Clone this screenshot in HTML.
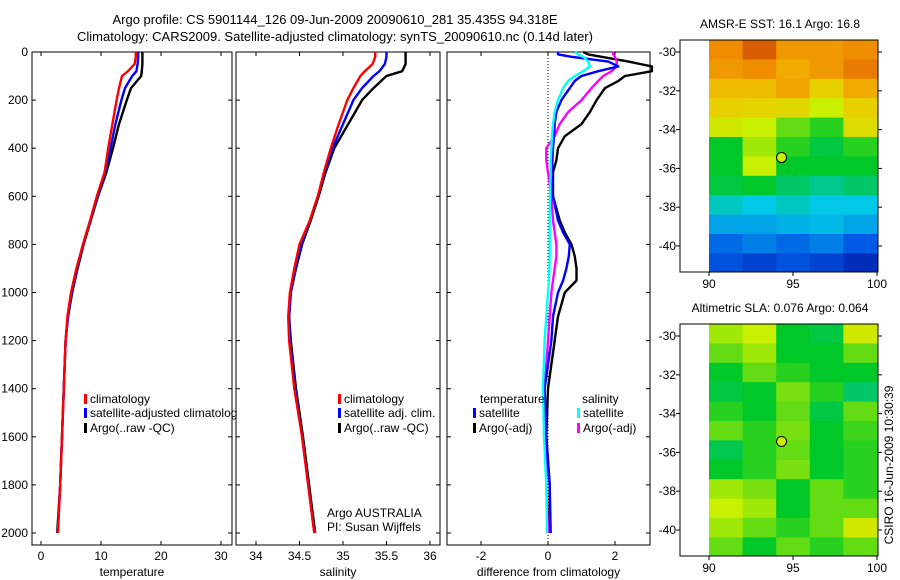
<!DOCTYPE html>
<html><head><meta charset="utf-8">
<style>
html,body{margin:0;padding:0;background:#fff;}
svg{display:block;font-family:"Liberation Sans",Arial,sans-serif;}
text{fill:#000;}
</style></head>
<body>
<svg id="fig" width="900" height="580" viewBox="0 0 900 580" xmlns="http://www.w3.org/2000/svg">
<text x="335" y="24" font-size="13" text-anchor="middle">Argo profile: CS 5901144_126 09-Jun-2009 20090610_281 35.435S 94.318E</text>
<text x="335" y="41" font-size="13" text-anchor="middle">Climatology: CARS2009. Satellite-adjusted climatology: synTS_20090610.nc (0.14d later)</text>
<g id="panels"></g>
</svg>
<script>
// ---- data ----
const depths = [0,20,50,80,100,150,200,300,400,500,600,700,800,900,1000,1100,1200,1400,1600,1800,2000];
const tempClim = [15.8,15.8,15.6,14.5,13.5,13.0,12.6,11.9,11.2,10.6,9.3,8.2,7.0,5.9,5.0,4.4,4.1,3.8,3.5,3.2,2.8];
const tempSat = [16.2,16.2,16.1,15.9,15.2,14.0,13.4,12.4,11.6,10.7,9.4,8.2,7.0,6.0,5.1,4.5,4.1,3.8,3.5,3.2,2.8];
const tempArgo = [16.9,16.9,16.9,16.8,16.7,15.0,14.3,13.0,12.0,10.9,9.5,8.3,7.1,6.1,5.2,4.5,4.1,3.8,3.5,3.2,2.7];
const salClim = [35.37,35.37,35.34,35.25,35.2,35.12,35.05,34.95,34.86,34.78,34.71,34.62,34.5,34.44,34.39,34.37,34.38,34.44,34.53,34.6,34.67];
const salSat = [35.5,35.5,35.48,35.42,35.35,35.22,35.12,35.0,34.88,34.79,34.71,34.62,34.52,34.45,34.4,34.38,34.39,34.45,34.53,34.6,34.67];
const salArgo = [35.72,35.72,35.72,35.68,35.5,35.35,35.22,35.06,34.9,34.8,34.72,34.63,34.53,34.46,34.4,34.38,34.4,34.46,34.54,34.61,34.68];
const diffDepths = [0,10,20,40,60,80,100,120,150,200,250,300,350,400,450,500,600,700,750,800,850,900,950,1000,1100,1200,1400,1600,1800,2000];
const dTempSat = [0.3,0.3,0.7,1.8,2.1,1.5,1.0,0.8,0.65,0.4,0.25,0.2,0.18,0.15,0.13,0.12,0.15,0.3,0.45,0.65,0.62,0.55,0.45,0.3,0.15,0.1,-0.1,-0.05,0.05,0.08];
const dTempArgo = [1.05,1.2,1.6,2.4,3.1,3.1,2.3,2.1,1.7,1.45,1.25,1.0,0.5,0.3,0.25,0.15,0.15,0.35,0.5,0.7,0.8,0.85,0.85,0.5,0.3,0.2,0.0,-0.05,0.05,0.05];
const dSalSat = [0.8,0.9,1.05,1.2,1.25,1.05,0.8,0.6,0.45,0.3,0.2,0.15,0.12,0.1,0.08,0.08,0.06,0.05,0.05,0.05,0.05,0.04,0.03,0.0,-0.05,-0.1,-0.15,-0.12,-0.05,-0.03];
const dSalArgo = [1.95,1.95,2.0,2.05,2.05,1.9,1.65,1.5,1.3,1.0,0.6,0.35,0.2,-0.05,-0.05,0.0,0.1,0.15,0.2,0.25,0.25,0.2,0.15,0.1,0.05,0.0,-0.1,-0.05,-0.05,0.0];
const depthTicks = [0,200,400,600,800,1000,1200,1400,1600,1800,2000];
const tempTicks = [0,10,20,30];
const salTicks = [34,34.5,35,35.5,36];
const diffTicks = [-2,0,2];
const sstGrid = [
 [0.8,0.86,0.78,0.78,0.8],[0.78,0.8,0.75,0.78,0.82],[0.72,0.72,0.76,0.68,0.75],
 [0.68,0.67,0.66,0.6,0.68],[0.62,0.6,0.55,0.52,0.65],[0.5,0.58,0.52,0.48,0.52],
 [0.5,0.6,0.5,0.5,0.5],[0.48,0.5,0.45,0.42,0.45],[0.38,0.35,0.38,0.35,0.35],
 [0.3,0.3,0.32,0.33,0.3],[0.22,0.25,0.22,0.25,0.2],[0.18,0.15,0.18,0.15,0.1]];
const slaGrid = [
 [0.58,0.6,0.5,0.48,0.62],[0.55,0.58,0.5,0.5,0.55],[0.5,0.55,0.52,0.5,0.5],
 [0.48,0.5,0.56,0.52,0.45],[0.52,0.5,0.55,0.48,0.55],[0.55,0.52,0.56,0.5,0.53],
 [0.47,0.52,0.55,0.5,0.52],[0.5,0.52,0.56,0.5,0.52],[0.58,0.56,0.5,0.55,0.52],
 [0.6,0.58,0.5,0.55,0.55],[0.58,0.55,0.52,0.55,0.62],[0.55,0.5,0.55,0.52,0.55]];
const lonTicks = [90,95,100];
const latTicks = [-30,-32,-34,-36,-38,-40];
const argoLon = 94.318, argoLat = -35.435;

// ---- helpers ----
const NS = "http://www.w3.org/2000/svg";
const root = document.getElementById('panels');
function mk(tag, attrs, parent){const e=document.createElementNS(NS,tag);for(const k in attrs)e.setAttribute(k,attrs[k]);(parent||root).appendChild(e);return e;}
function txt(x,y,s,anchor,size){const t=mk('text',{x:x,y:y,'font-size':size||12,'text-anchor':anchor||'start'});t.textContent=s;return t;}
const yTop=52, yScale=0.2405, yBot=545;
const yD = d => yTop + d*yScale;

function panel(name,x0,x1,xv0,px,ticks,label,showDepth){
  const xf = v => xv0 + v*px;
  const box = mk('rect',{x:x0,y:yTop,width:x1-x0,height:yBot-yTop,fill:'none',stroke:'#000','stroke-width':1});
  
  
  depthTicks.forEach(d=>{
    mk('line',{x1:x0,y1:yD(d),x2:x0+4,y2:yD(d),stroke:'#000'});
    mk('line',{x1:x1,y1:yD(d),x2:x1-4,y2:yD(d),stroke:'#000'});
    if(showDepth){const t=txt(x0-4,yD(d)+4,String(d),'end');
      
      }
  });
  ticks.forEach(v=>{
    const x=xf(v);
    mk('line',{x1:x,y1:yBot,x2:x,y2:yBot-4,stroke:'#000'});
    mk('line',{x1:x,y1:yTop,x2:x,y2:yTop+4,stroke:'#000'});
    const t=txt(x,560,String(v),'middle');
    
    
  });
  const t=txt((x0+x1)/2,576,label,'middle');
  
  
  return xf;
}
function line(xf,dep,vals,color,name){
  const pts = vals.map((v,i)=>xf(v).toFixed(1)+','+yD(dep[i]).toFixed(1)).join(' ');
  const p = mk('polyline',{points:pts,fill:'none',stroke:color,'stroke-width':2.4,'stroke-linejoin':'round'});
  
  
}
function legItem(x,y,color,label,name){
  mk('rect',{x:x,y:y-9,width:3,height:10,fill:color});
  const t=txt(x+6,y,label,'start',12);
  
  
}

// temperature panel
const xT = panel('temperature',32,232,41,6,tempTicks,'temperature',true);
line(xT,depths,tempArgo,'#000','temp-argo-line');
line(xT,depths,tempSat,'#0000ff','temp-satellite-line');
line(xT,depths,tempClim,'#ff0000','temp-climatology-line');
legItem(84,403,'#ff0000','climatology','legend-climatology');
legItem(84,417,'#0000ff','satellite-adjusted climatolog','legend-satellite');
legItem(84,432,'#000','Argo(..raw -QC)','legend-argo');

// salinity panel
const xS = panel('salinity',236,440,256-34*87,87,salTicks,'salinity',false);
line(xS,depths,salArgo,'#000','sal-argo-line');
line(xS,depths,salSat,'#0000ff','sal-satellite-line');
line(xS,depths,salClim,'#ff0000','sal-climatology-line');
legItem(338,403,'#ff0000','climatology','legend2-climatology');
legItem(338,417,'#0000ff','satellite adj. clim.','legend2-satellite');
legItem(338,432,'#000','Argo(..raw -QC)','legend2-argo');
let t1=txt(327,517,'Argo AUSTRALIA');
let t2=txt(327,531,'PI: Susan Wijffels');

// difference panel
const xD = panel('difference',447,650,548,33.5,diffTicks,'difference from climatology',false);
const zl=mk('line',{x1:xD(0),y1:yTop,x2:xD(0),y2:yBot,stroke:'#000','stroke-dasharray':'1,2'});

line(xD,diffDepths,dTempArgo,'#000','diff-temp-argo-line');
line(xD,diffDepths,dSalArgo,'#ff00ff','diff-sal-argo-line');
line(xD,diffDepths,dTempSat,'#0000ff','diff-temp-satellite-line');
line(xD,diffDepths,dSalSat,'#00ffff','diff-sal-satellite-line');
let t3=txt(480,403,'temperature');
let t4=txt(582,403,'salinity');
legItem(473,417,'#0000ff','satellite','legend3-temp-satellite');
legItem(473,432,'#000','Argo(-adj)','legend3-temp-argo');
legItem(577,417,'#00ffff','satellite','legend3-sal-satellite');
legItem(577,432,'#ff00ff','Argo(-adj)','legend3-sal-argo');

// maps
const cmapStops=[[0,[0,0,140]],[0.2,[0,90,230]],[0.35,[0,200,230]],[0.5,[0,200,40]],[0.6,[200,240,0]],[0.7,[240,200,0]],[0.8,[240,140,0]],[0.9,[200,60,0]],[1,[150,0,0]]];
function cmap(v){
  v=Math.max(0,Math.min(1,v));
  for(let i=1;i<cmapStops.length;i++){
    const [a,ca]=cmapStops[i-1],[b,cb]=cmapStops[i];
    if(v<=b){const f=(v-a)/(b-a);return 'rgb('+ca.map((c,k)=>Math.round(c+(cb[k]-c)*f)).join(',')+')';}
  }
  return 'rgb(150,0,0)';
}
function map(name,top,grid,title){
  const x0=680,x1=878,h=232,lonX=l=>709+(l-90)*16.8, latY=la=>top+12+(-30-la)*19.4;
  const g=mk('g',{});
  
  
  grid.forEach((row,r)=>row.forEach((v,c)=>{
    const lat0=-29.38-r, lon0=90+2*c;
    const yA=latY(lat0), yB=Math.min(top+h,latY(lat0-1));
    const cell=mk('rect',{x:lonX(lon0),y:yA,width:lonX(lon0+2)-lonX(lon0)+0.5,height:yB-yA+0.5,fill:cmap(v)},g);
    
    
  }));
  mk('rect',{x:x0,y:top,width:x1-x0,height:h,fill:'none',stroke:'#000'});
  latTicks.forEach(la=>{const y=latY(la);
    mk('line',{x1:x0,y1:y,x2:x0-4,y2:y,stroke:'#000'});mk('line',{x1:x1,y1:y,x2:x1+4,y2:y,stroke:'#000'});
    const t=txt(676,y+4,String(la),'end');});
  lonTicks.forEach(l=>{const x=lonX(l);
    mk('line',{x1:x,y1:top+h,x2:x,y2:top+h+4,stroke:'#000'});
    const t=txt(x,top+h+16,String(l),'middle');});
  const ci=mk('circle',{cx:lonX(argoLon),cy:latY(argoLat),r:5,fill:cmap(0.6),stroke:'#000','stroke-width':1});
  
  const tt=txt(780,top-12,title,'middle');
}
map('sst',40,sstGrid,'AMSR-E SST: 16.1 Argo: 16.8');
map('sla',324,slaGrid,'Altimetric SLA: 0.076 Argo: 0.064');
const cs=txt(0,0,'CSIRO 16-Jun-2009 10:30:39','middle');
cs.setAttribute('transform','translate(893,465) rotate(-90)');


</script>
</body></html>
